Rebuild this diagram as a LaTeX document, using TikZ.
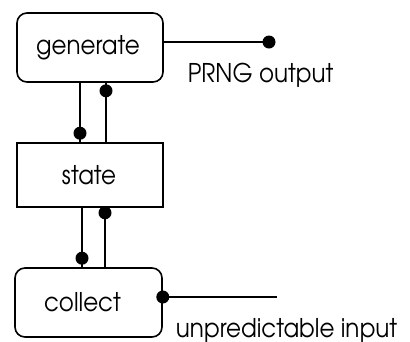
\documentclass[tikz,border=0pt]{standalone}
\usepackage{graphicx}
\usepackage{fontspec}
\setmainfont{TeX Gyre Adventor}
\newcommand{\tallt}[1]{\scalebox{1}[1.12]{#1}}
\begin{document}
\begin{tikzpicture}[x=1pt,y=-1pt, line width=1.6pt,
  box/.style={draw, minimum width=146pt, minimum height=69pt, inner sep=0pt, font=\fontsize{23}{23}\selectfont},
  rbox/.style={box, rounded corners=10pt},
  lbl/.style={inner sep=0pt, font=\fontsize{23}{23}\selectfont},
  dot/.style={circle, fill, inner sep=0pt, minimum size=13pt}]
\useasboundingbox (0,0) rectangle (410,341);
\node[rbox] (gen) at (90,47.5) {\tallt{generate}\hspace*{4pt}};
\node[box, minimum height=64pt] (st) at (90,175) {\tallt{state}\hspace*{2pt}};
\node[rbox, minimum width=147pt] (col) at (88.5,302.5) {\tallt{collect}\hspace*{12pt}};
% generate <-> state
\draw ([xshift=-10pt]gen.south) -- ([xshift=-10pt]st.north);
\node[dot] (d1) at ([xshift=-10pt,yshift=9pt]st.north) {};
\draw ([xshift=16pt]gen.south) -- ([xshift=16pt]st.north);
\node[dot] (d2) at ([xshift=16pt,yshift=-8pt]gen.south) {};
% state <-> collect
\draw ([xshift=-8pt]st.south) -- ([xshift=-6.5pt]col.north);
\node[dot] (d3) at ([xshift=-6.5pt,yshift=9pt]col.north) {};
\draw ([xshift=15pt]st.south) -- ([xshift=16.5pt]col.north);
\node[dot] (d4) at ([xshift=15pt,yshift=-5pt]st.south) {};
% output
\coordinate (out) at (269,42);
\draw (gen.east |- out) -- (out);
\node[dot] (d5) at (out) {};
\node[lbl, anchor=west] (outl) at (187,75) {\tallt{PRNG output}};
% input
\coordinate (in) at (277,297);
\draw (col.east |- in) -- (in);
\node[dot] (d6) at (col.east |- in) {};
\node[lbl, anchor=west] (inl) at (175,330) {\tallt{unpredictable input}};
\end{tikzpicture}
\end{document}
